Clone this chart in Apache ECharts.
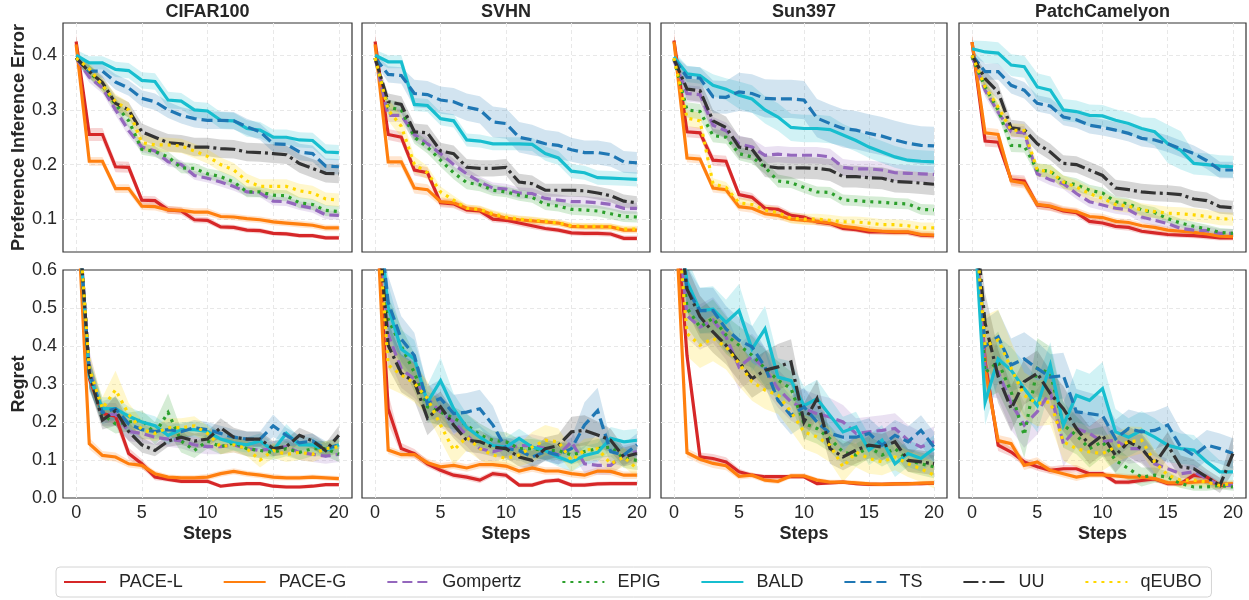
<!DOCTYPE html>
<html><head><meta charset="utf-8">
<script src="https://cdn.jsdelivr.net/npm/echarts@6/dist/echarts.min.js"></script>
<style>html,body{margin:0;padding:0;background:#fff}#c{width:1249px;height:600px}</style>
</head><body><div id="c"></div>
<script>
const steps = [0,1,2,3,4,5,6,7,8,9,10,11,12,13,14,15,16,17,18,19,20];
const methods = ['PACE-L','PACE-G','Gompertz','EPIG','BALD','TS','UU','qEUBO'];
const datasets = ['CIFAR100','SVHN','Sun397','PatchCamelyon'];
const xTicks = [0,5,10,15,20];
const pieTicks = [0.1,0.2,0.3,0.4];
const regretTicks = [0,0.1,0.2,0.3,0.4,0.5,0.6];
const regretGridLines = [0.1,0.2,0.3,0.4,0.5];

// Preference Inference Error: means (order = methods)
const pieCIFAR100 = [
 [0.425,0.255,0.255,0.196,0.195,0.135,0.134,0.117,0.115,0.099,0.098,0.086,0.085,0.08,0.079,0.074,0.073,0.07,0.07,0.066,0.066],
 [0.42,0.206,0.206,0.156,0.156,0.124,0.123,0.117,0.116,0.113,0.113,0.105,0.104,0.101,0.099,0.095,0.093,0.091,0.089,0.084,0.084],
 [0.395,0.36,0.34,0.3,0.262,0.232,0.225,0.205,0.2,0.18,0.175,0.168,0.16,0.15,0.148,0.133,0.132,0.125,0.12,0.108,0.107],
 [0.395,0.37,0.345,0.31,0.28,0.228,0.224,0.214,0.194,0.193,0.183,0.178,0.168,0.15,0.15,0.144,0.143,0.13,0.127,0.116,0.114],
 [0.4,0.386,0.386,0.374,0.372,0.354,0.352,0.318,0.316,0.3,0.298,0.281,0.28,0.266,0.263,0.25,0.25,0.245,0.244,0.223,0.222],
 [0.395,0.371,0.371,0.351,0.34,0.321,0.315,0.3,0.29,0.284,0.281,0.281,0.28,0.269,0.26,0.238,0.237,0.223,0.22,0.197,0.196],
 [0.395,0.37,0.35,0.312,0.3,0.26,0.25,0.24,0.238,0.232,0.232,0.229,0.228,0.223,0.222,0.22,0.218,0.202,0.193,0.184,0.183],
 [0.395,0.375,0.345,0.315,0.3,0.24,0.236,0.236,0.234,0.225,0.215,0.2,0.19,0.17,0.16,0.16,0.16,0.152,0.148,0.137,0.135]
];
const pieSVHN = [
 [0.425,0.255,0.25,0.19,0.185,0.13,0.128,0.117,0.115,0.1,0.098,0.093,0.088,0.083,0.08,0.075,0.074,0.074,0.073,0.065,0.065],
 [0.42,0.205,0.205,0.157,0.154,0.132,0.13,0.12,0.117,0.108,0.102,0.099,0.097,0.095,0.093,0.087,0.086,0.086,0.086,0.08,0.08],
 [0.395,0.29,0.29,0.255,0.238,0.22,0.2,0.183,0.168,0.157,0.155,0.148,0.147,0.138,0.135,0.132,0.132,0.13,0.127,0.12,0.12],
 [0.395,0.305,0.3,0.25,0.232,0.208,0.185,0.167,0.163,0.153,0.15,0.144,0.14,0.127,0.124,0.118,0.117,0.115,0.11,0.105,0.104],
 [0.4,0.388,0.388,0.31,0.308,0.284,0.28,0.245,0.243,0.238,0.238,0.238,0.237,0.22,0.212,0.188,0.185,0.176,0.175,0.174,0.173],
 [0.395,0.365,0.363,0.33,0.328,0.318,0.315,0.305,0.3,0.278,0.275,0.25,0.245,0.238,0.235,0.227,0.222,0.222,0.218,0.205,0.203],
 [0.395,0.315,0.31,0.26,0.258,0.225,0.22,0.195,0.193,0.193,0.195,0.168,0.165,0.153,0.153,0.153,0.152,0.148,0.143,0.133,0.13],
 [0.395,0.3,0.27,0.2,0.185,0.15,0.135,0.12,0.118,0.11,0.104,0.1,0.098,0.096,0.093,0.088,0.087,0.087,0.086,0.082,0.082]
];
const pieSun397 = [
 [0.427,0.26,0.258,0.208,0.206,0.145,0.14,0.12,0.118,0.107,0.104,0.095,0.092,0.083,0.081,0.077,0.077,0.076,0.076,0.071,0.07],
 [0.425,0.212,0.21,0.157,0.154,0.123,0.12,0.11,0.107,0.1,0.098,0.096,0.093,0.087,0.084,0.08,0.078,0.077,0.077,0.072,0.071],
 [0.39,0.33,0.328,0.272,0.262,0.238,0.232,0.217,0.219,0.217,0.217,0.217,0.214,0.195,0.192,0.192,0.19,0.185,0.184,0.183,0.182],
 [0.393,0.3,0.297,0.253,0.25,0.22,0.214,0.195,0.17,0.167,0.158,0.15,0.149,0.135,0.134,0.132,0.131,0.129,0.128,0.118,0.117],
 [0.397,0.366,0.363,0.345,0.338,0.327,0.32,0.3,0.287,0.268,0.266,0.266,0.264,0.254,0.244,0.232,0.223,0.214,0.208,0.206,0.205],
 [0.393,0.36,0.358,0.324,0.323,0.333,0.33,0.321,0.32,0.32,0.318,0.285,0.275,0.266,0.263,0.257,0.252,0.245,0.239,0.235,0.234],
 [0.393,0.338,0.335,0.28,0.268,0.232,0.228,0.197,0.194,0.194,0.194,0.193,0.19,0.178,0.178,0.176,0.175,0.169,0.168,0.166,0.164],
 [0.395,0.285,0.28,0.165,0.158,0.13,0.127,0.117,0.112,0.102,0.1,0.1,0.098,0.095,0.095,0.093,0.09,0.09,0.088,0.084,0.084]
];
const piePatchCamelyon = [
 [0.424,0.243,0.241,0.172,0.17,0.126,0.123,0.115,0.112,0.096,0.093,0.087,0.085,0.078,0.075,0.072,0.071,0.07,0.068,0.066,0.066],
 [0.424,0.258,0.255,0.17,0.166,0.127,0.124,0.117,0.114,0.105,0.103,0.096,0.094,0.088,0.085,0.08,0.078,0.076,0.073,0.069,0.068],
 [0.397,0.336,0.296,0.26,0.258,0.183,0.172,0.165,0.147,0.132,0.126,0.12,0.117,0.104,0.098,0.092,0.083,0.08,0.079,0.074,0.074],
 [0.397,0.342,0.3,0.235,0.234,0.19,0.188,0.168,0.163,0.153,0.148,0.132,0.128,0.117,0.112,0.101,0.093,0.087,0.082,0.076,0.074],
 [0.412,0.406,0.404,0.382,0.379,0.342,0.336,0.3,0.297,0.29,0.289,0.281,0.275,0.266,0.26,0.238,0.226,0.202,0.2,0.197,0.196],
 [0.4,0.37,0.37,0.345,0.336,0.312,0.307,0.287,0.282,0.272,0.268,0.263,0.257,0.248,0.245,0.238,0.229,0.22,0.207,0.19,0.19],
 [0.4,0.357,0.333,0.267,0.264,0.238,0.223,0.202,0.2,0.19,0.18,0.157,0.154,0.15,0.148,0.147,0.145,0.137,0.134,0.123,0.121],
 [0.4,0.342,0.305,0.263,0.262,0.19,0.187,0.168,0.159,0.147,0.138,0.127,0.124,0.117,0.114,0.111,0.11,0.108,0.105,0.101,0.1]
];

// Preference Inference Error: band half-widths
const pieErrCIFAR100 = [
 [0.015,0.012,0.012,0.01,0.01,0.008,0.008,0.007,0.007,0.006,0.006,0.005,0.005,0.005,0.005,0.004,0.004,0.004,0.004,0.004,0.004],
 [0.012,0.008,0.008,0.008,0.008,0.007,0.007,0.007,0.007,0.007,0.007,0.006,0.006,0.006,0.006,0.006,0.006,0.006,0.006,0.006,0.006],
 [0.006,0.01,0.01,0.01,0.01,0.009,0.009,0.008,0.008,0.008,0.008,0.008,0.008,0.008,0.008,0.008,0.008,0.008,0.008,0.008,0.008],
 [0.006,0.012,0.012,0.012,0.012,0.01,0.01,0.01,0.01,0.01,0.01,0.01,0.01,0.01,0.01,0.01,0.01,0.01,0.01,0.01,0.01],
 [0.01,0.012,0.012,0.014,0.014,0.015,0.015,0.015,0.015,0.015,0.015,0.015,0.015,0.015,0.015,0.014,0.014,0.014,0.014,0.014,0.014],
 [0.008,0.012,0.012,0.014,0.014,0.015,0.015,0.015,0.015,0.016,0.016,0.016,0.016,0.015,0.015,0.015,0.015,0.015,0.015,0.014,0.014],
 [0.006,0.012,0.012,0.014,0.014,0.015,0.015,0.016,0.016,0.017,0.017,0.017,0.017,0.017,0.017,0.017,0.017,0.017,0.017,0.017,0.017],
 [0.006,0.012,0.012,0.014,0.014,0.014,0.014,0.013,0.013,0.013,0.013,0.013,0.013,0.013,0.013,0.013,0.013,0.013,0.013,0.012,0.012]
];
const pieErrSVHN = [
 [0.015,0.01,0.01,0.01,0.01,0.008,0.008,0.007,0.007,0.006,0.006,0.006,0.006,0.005,0.005,0.005,0.005,0.005,0.005,0.005,0.005],
 [0.012,0.01,0.01,0.01,0.01,0.008,0.008,0.007,0.007,0.007,0.007,0.007,0.007,0.006,0.006,0.006,0.006,0.006,0.006,0.006,0.006],
 [0.006,0.012,0.012,0.012,0.012,0.01,0.01,0.01,0.01,0.01,0.01,0.01,0.01,0.01,0.01,0.01,0.01,0.01,0.01,0.01,0.01],
 [0.006,0.014,0.014,0.012,0.012,0.012,0.012,0.012,0.012,0.01,0.01,0.01,0.01,0.01,0.01,0.01,0.01,0.01,0.01,0.01,0.01],
 [0.01,0.012,0.012,0.012,0.012,0.012,0.012,0.012,0.012,0.012,0.012,0.012,0.012,0.013,0.013,0.013,0.013,0.013,0.013,0.013,0.013],
 [0.008,0.015,0.015,0.025,0.025,0.025,0.025,0.025,0.025,0.028,0.028,0.028,0.028,0.025,0.025,0.022,0.022,0.022,0.022,0.02,0.02],
 [0.006,0.015,0.015,0.015,0.015,0.015,0.015,0.015,0.015,0.015,0.015,0.015,0.015,0.012,0.012,0.012,0.012,0.012,0.012,0.012,0.012],
 [0.006,0.02,0.02,0.015,0.012,0.01,0.008,0.007,0.007,0.007,0.007,0.007,0.007,0.006,0.006,0.006,0.006,0.006,0.006,0.006,0.006]
];
const pieErrSun397 = [
 [0.015,0.01,0.01,0.01,0.01,0.008,0.008,0.007,0.007,0.006,0.006,0.006,0.006,0.005,0.005,0.005,0.005,0.005,0.005,0.005,0.005],
 [0.012,0.008,0.008,0.008,0.008,0.008,0.008,0.008,0.008,0.007,0.007,0.007,0.007,0.007,0.007,0.007,0.007,0.007,0.007,0.007,0.007],
 [0.006,0.015,0.015,0.015,0.015,0.015,0.015,0.015,0.015,0.015,0.015,0.015,0.015,0.015,0.015,0.015,0.015,0.015,0.015,0.015,0.015],
 [0.006,0.014,0.014,0.012,0.012,0.012,0.012,0.012,0.012,0.01,0.01,0.01,0.01,0.01,0.01,0.01,0.01,0.01,0.01,0.01,0.01],
 [0.01,0.015,0.015,0.02,0.02,0.025,0.025,0.025,0.025,0.025,0.025,0.025,0.025,0.02,0.02,0.02,0.02,0.02,0.02,0.02,0.02],
 [0.008,0.02,0.02,0.03,0.03,0.035,0.035,0.035,0.035,0.035,0.035,0.035,0.035,0.035,0.035,0.035,0.035,0.035,0.035,0.035,0.035],
 [0.006,0.02,0.02,0.02,0.02,0.02,0.02,0.02,0.02,0.02,0.02,0.02,0.02,0.02,0.02,0.02,0.02,0.02,0.02,0.02,0.02],
 [0.006,0.015,0.015,0.01,0.01,0.01,0.01,0.01,0.01,0.01,0.01,0.01,0.01,0.01,0.01,0.01,0.01,0.01,0.01,0.01,0.01]
];
const pieErrPatchCamelyon = [
 [0.015,0.01,0.01,0.01,0.01,0.008,0.008,0.007,0.007,0.006,0.006,0.006,0.006,0.005,0.005,0.005,0.005,0.005,0.005,0.005,0.005],
 [0.012,0.01,0.01,0.01,0.01,0.008,0.008,0.007,0.007,0.007,0.007,0.006,0.006,0.006,0.006,0.006,0.006,0.006,0.006,0.006,0.006],
 [0.006,0.012,0.012,0.012,0.012,0.01,0.01,0.01,0.01,0.01,0.01,0.01,0.01,0.01,0.01,0.008,0.008,0.008,0.008,0.008,0.008],
 [0.006,0.012,0.012,0.012,0.012,0.012,0.012,0.012,0.012,0.01,0.01,0.01,0.01,0.01,0.01,0.008,0.008,0.008,0.008,0.008,0.008],
 [0.015,0.02,0.02,0.02,0.02,0.025,0.025,0.02,0.02,0.02,0.02,0.02,0.02,0.02,0.025,0.035,0.035,0.02,0.02,0.02,0.02],
 [0.01,0.015,0.015,0.015,0.015,0.015,0.015,0.015,0.015,0.015,0.015,0.015,0.015,0.015,0.015,0.015,0.015,0.015,0.015,0.015,0.015],
 [0.006,0.015,0.015,0.015,0.015,0.015,0.015,0.015,0.015,0.015,0.015,0.015,0.015,0.015,0.015,0.015,0.015,0.015,0.015,0.013,0.013],
 [0.006,0.012,0.012,0.012,0.012,0.012,0.012,0.012,0.012,0.012,0.012,0.012,0.012,0.012,0.012,0.012,0.012,0.012,0.012,0.012,0.012]
];

// Regret: means
const regretCIFAR100 = [
 [0.83,0.315,0.222,0.215,0.117,0.09,0.055,0.049,0.044,0.044,0.044,0.031,0.035,0.038,0.038,0.031,0.029,0.029,0.031,0.035,0.035],
 [0.83,0.143,0.112,0.108,0.09,0.086,0.064,0.055,0.053,0.053,0.055,0.064,0.07,0.064,0.06,0.055,0.053,0.053,0.055,0.053,0.051],
 [0.83,0.34,0.22,0.22,0.175,0.17,0.16,0.155,0.15,0.14,0.135,0.135,0.14,0.13,0.125,0.13,0.135,0.12,0.115,0.11,0.115],
 [0.83,0.33,0.22,0.195,0.2,0.205,0.17,0.225,0.15,0.125,0.15,0.135,0.145,0.13,0.125,0.12,0.13,0.12,0.13,0.13,0.115],
 [0.83,0.32,0.235,0.235,0.215,0.2,0.19,0.165,0.18,0.18,0.175,0.155,0.145,0.14,0.15,0.125,0.17,0.14,0.14,0.125,0.14],
 [0.83,0.33,0.225,0.235,0.195,0.18,0.175,0.18,0.175,0.185,0.18,0.17,0.16,0.155,0.155,0.19,0.165,0.145,0.15,0.13,0.14],
 [0.83,0.33,0.205,0.23,0.175,0.14,0.125,0.15,0.16,0.15,0.155,0.185,0.16,0.155,0.155,0.13,0.135,0.165,0.15,0.125,0.165],
 [0.83,0.34,0.235,0.285,0.22,0.18,0.17,0.185,0.185,0.19,0.17,0.135,0.14,0.13,0.1,0.125,0.115,0.12,0.115,0.13,0.135]
];
const regretSVHN = [
 [0.83,0.235,0.13,0.117,0.09,0.073,0.06,0.055,0.047,0.064,0.06,0.034,0.034,0.044,0.047,0.034,0.034,0.037,0.038,0.038,0.038],
 [0.83,0.126,0.114,0.114,0.093,0.082,0.086,0.079,0.088,0.088,0.084,0.071,0.079,0.071,0.071,0.064,0.06,0.071,0.07,0.06,0.06],
 [0.83,0.43,0.34,0.313,0.262,0.226,0.2,0.166,0.13,0.122,0.13,0.138,0.138,0.13,0.113,0.148,0.09,0.086,0.086,0.113,0.122],
 [0.83,0.47,0.4,0.33,0.24,0.226,0.21,0.192,0.166,0.152,0.148,0.13,0.13,0.125,0.125,0.113,0.122,0.13,0.134,0.104,0.099],
 [0.83,0.502,0.392,0.366,0.252,0.309,0.235,0.186,0.16,0.138,0.134,0.157,0.134,0.125,0.108,0.095,0.112,0.12,0.157,0.148,0.152],
 [0.83,0.515,0.418,0.375,0.248,0.262,0.222,0.226,0.235,0.192,0.13,0.125,0.108,0.122,0.113,0.13,0.192,0.23,0.122,0.113,0.14],
 [0.83,0.402,0.328,0.306,0.21,0.24,0.192,0.152,0.148,0.134,0.13,0.108,0.099,0.13,0.138,0.174,0.178,0.166,0.152,0.108,0.117],
 [0.83,0.35,0.324,0.302,0.262,0.192,0.126,0.16,0.13,0.113,0.104,0.113,0.134,0.152,0.148,0.099,0.126,0.13,0.09,0.108,0.077]
];
const regretSun397 = [
 [0.83,0.375,0.108,0.104,0.095,0.069,0.06,0.056,0.056,0.056,0.056,0.038,0.04,0.042,0.038,0.036,0.036,0.037,0.038,0.038,0.039],
 [0.83,0.119,0.102,0.091,0.085,0.057,0.06,0.047,0.044,0.058,0.058,0.047,0.042,0.042,0.04,0.037,0.036,0.037,0.037,0.039,0.04],
 [0.83,0.48,0.45,0.468,0.424,0.345,0.372,0.341,0.288,0.253,0.235,0.222,0.213,0.2,0.17,0.174,0.178,0.183,0.152,0.134,0.148],
 [0.83,0.5,0.45,0.473,0.429,0.402,0.376,0.341,0.31,0.288,0.196,0.183,0.156,0.121,0.113,0.134,0.113,0.13,0.099,0.09,0.082],
 [0.83,0.57,0.493,0.497,0.462,0.493,0.392,0.445,0.318,0.309,0.243,0.261,0.217,0.174,0.187,0.126,0.152,0.09,0.117,0.104,0.13],
 [0.83,0.55,0.493,0.493,0.445,0.415,0.398,0.345,0.257,0.217,0.24,0.2,0.17,0.16,0.16,0.17,0.139,0.165,0.148,0.178,0.134],
 [0.83,0.55,0.477,0.437,0.402,0.358,0.314,0.336,0.345,0.358,0.2,0.261,0.13,0.108,0.126,0.139,0.134,0.148,0.099,0.095,0.09],
 [0.83,0.433,0.402,0.42,0.398,0.354,0.306,0.284,0.271,0.227,0.174,0.161,0.139,0.082,0.121,0.104,0.095,0.108,0.09,0.077,0.06]
];
const regretPatchCamelyon = [
 [0.83,0.36,0.139,0.121,0.095,0.082,0.073,0.077,0.077,0.064,0.064,0.042,0.042,0.046,0.05,0.038,0.038,0.06,0.055,0.033,0.035],
 [0.83,0.34,0.151,0.143,0.086,0.095,0.073,0.064,0.055,0.061,0.061,0.058,0.055,0.055,0.051,0.04,0.04,0.042,0.044,0.035,0.038],
 [0.83,0.34,0.332,0.249,0.192,0.227,0.279,0.143,0.183,0.17,0.148,0.152,0.13,0.13,0.09,0.077,0.064,0.069,0.051,0.033,0.033],
 [0.83,0.33,0.358,0.279,0.165,0.341,0.328,0.192,0.165,0.13,0.148,0.099,0.077,0.055,0.06,0.055,0.038,0.029,0.029,0.033,0.029],
 [0.83,0.252,0.366,0.336,0.288,0.243,0.35,0.192,0.27,0.257,0.288,0.174,0.16,0.178,0.16,0.139,0.13,0.126,0.095,0.069,0.069],
 [0.83,0.4,0.424,0.35,0.366,0.341,0.318,0.322,0.227,0.222,0.217,0.156,0.183,0.174,0.178,0.192,0.134,0.112,0.139,0.13,0.117],
 [0.83,0.46,0.32,0.235,0.306,0.328,0.275,0.235,0.183,0.139,0.165,0.112,0.148,0.13,0.09,0.139,0.082,0.077,0.055,0.033,0.117],
 [0.83,0.4,0.416,0.341,0.27,0.249,0.253,0.148,0.13,0.121,0.117,0.134,0.148,0.152,0.095,0.06,0.047,0.047,0.042,0.033,0.038]
];

// Regret: band half-widths
const regretErrCIFAR100 = [
 [0.02,0.03,0.02,0.02,0.015,0.012,0.008,0.006,0.006,0.006,0.006,0.005,0.005,0.005,0.005,0.005,0.005,0.005,0.005,0.005,0.005],
 [0.02,0.015,0.012,0.012,0.01,0.01,0.008,0.007,0.007,0.007,0.008,0.008,0.008,0.008,0.008,0.008,0.007,0.007,0.007,0.007,0.007],
 [0.02,0.05,0.03,0.03,0.025,0.025,0.02,0.02,0.02,0.02,0.02,0.02,0.02,0.02,0.02,0.02,0.02,0.02,0.02,0.02,0.02],
 [0.02,0.04,0.03,0.025,0.025,0.025,0.03,0.05,0.03,0.02,0.02,0.02,0.02,0.02,0.02,0.02,0.02,0.02,0.02,0.02,0.02],
 [0.02,0.04,0.03,0.03,0.025,0.025,0.025,0.025,0.02,0.02,0.02,0.02,0.02,0.02,0.02,0.02,0.025,0.02,0.02,0.02,0.02],
 [0.02,0.04,0.03,0.03,0.025,0.025,0.02,0.02,0.02,0.02,0.02,0.02,0.02,0.02,0.02,0.03,0.02,0.02,0.02,0.02,0.02],
 [0.02,0.04,0.025,0.04,0.025,0.02,0.015,0.015,0.02,0.02,0.02,0.025,0.025,0.02,0.02,0.02,0.02,0.02,0.02,0.02,0.025],
 [0.02,0.04,0.03,0.05,0.03,0.025,0.02,0.025,0.025,0.025,0.02,0.02,0.02,0.02,0.02,0.02,0.02,0.02,0.02,0.02,0.02]
];
const regretErrSVHN = [
 [0.02,0.04,0.015,0.012,0.01,0.008,0.008,0.008,0.008,0.008,0.008,0.006,0.006,0.006,0.006,0.006,0.006,0.006,0.006,0.006,0.006],
 [0.02,0.01,0.01,0.01,0.01,0.01,0.01,0.01,0.01,0.01,0.01,0.01,0.01,0.01,0.01,0.01,0.01,0.01,0.01,0.01,0.01],
 [0.02,0.06,0.05,0.05,0.04,0.04,0.035,0.03,0.03,0.025,0.025,0.025,0.03,0.03,0.025,0.03,0.025,0.025,0.025,0.025,0.025],
 [0.02,0.06,0.05,0.05,0.04,0.035,0.03,0.03,0.03,0.025,0.025,0.025,0.025,0.025,0.025,0.025,0.025,0.025,0.025,0.025,0.025],
 [0.02,0.06,0.05,0.05,0.045,0.06,0.04,0.035,0.03,0.025,0.025,0.025,0.025,0.025,0.025,0.025,0.025,0.025,0.03,0.03,0.03],
 [0.02,0.07,0.06,0.06,0.045,0.05,0.05,0.05,0.05,0.05,0.03,0.025,0.025,0.025,0.025,0.03,0.06,0.06,0.03,0.03,0.03],
 [0.02,0.06,0.05,0.05,0.045,0.04,0.035,0.03,0.03,0.025,0.025,0.025,0.025,0.03,0.03,0.04,0.04,0.035,0.03,0.025,0.025],
 [0.02,0.06,0.05,0.05,0.045,0.04,0.04,0.035,0.03,0.03,0.025,0.03,0.04,0.04,0.035,0.03,0.03,0.03,0.025,0.025,0.025]
];
const regretErrSun397 = [
 [0.02,0.03,0.012,0.012,0.012,0.008,0.006,0.006,0.006,0.006,0.006,0.005,0.005,0.005,0.005,0.005,0.005,0.005,0.005,0.005,0.005],
 [0.02,0.012,0.012,0.012,0.012,0.008,0.008,0.007,0.007,0.007,0.007,0.006,0.006,0.006,0.006,0.006,0.006,0.006,0.006,0.006,0.006],
 [0.02,0.06,0.06,0.06,0.06,0.06,0.06,0.055,0.05,0.05,0.05,0.05,0.05,0.045,0.04,0.04,0.04,0.04,0.04,0.04,0.04],
 [0.02,0.05,0.05,0.05,0.05,0.05,0.05,0.05,0.05,0.045,0.04,0.04,0.035,0.03,0.03,0.03,0.03,0.03,0.03,0.03,0.03],
 [0.02,0.06,0.06,0.06,0.06,0.07,0.06,0.06,0.05,0.05,0.05,0.05,0.045,0.04,0.04,0.04,0.04,0.035,0.035,0.035,0.035],
 [0.02,0.06,0.06,0.06,0.06,0.06,0.055,0.05,0.05,0.05,0.05,0.045,0.04,0.04,0.04,0.04,0.04,0.04,0.04,0.04,0.04],
 [0.02,0.06,0.055,0.055,0.05,0.05,0.05,0.05,0.06,0.06,0.05,0.05,0.04,0.035,0.035,0.035,0.035,0.035,0.03,0.03,0.03],
 [0.02,0.06,0.06,0.06,0.06,0.06,0.05,0.05,0.05,0.05,0.045,0.045,0.045,0.04,0.04,0.04,0.035,0.035,0.035,0.035,0.035]
];
const regretErrPatchCamelyon = [
 [0.02,0.04,0.015,0.012,0.01,0.01,0.01,0.01,0.01,0.008,0.008,0.007,0.007,0.007,0.007,0.007,0.007,0.008,0.008,0.007,0.007],
 [0.02,0.04,0.015,0.015,0.012,0.012,0.01,0.01,0.01,0.008,0.008,0.008,0.008,0.008,0.008,0.007,0.007,0.007,0.007,0.007,0.007],
 [0.02,0.07,0.07,0.07,0.06,0.06,0.06,0.06,0.05,0.05,0.04,0.04,0.04,0.035,0.03,0.025,0.02,0.02,0.015,0.01,0.01],
 [0.02,0.07,0.08,0.07,0.06,0.08,0.07,0.06,0.05,0.05,0.04,0.035,0.03,0.025,0.02,0.015,0.012,0.01,0.01,0.01,0.01],
 [0.02,0.06,0.06,0.06,0.07,0.07,0.06,0.06,0.07,0.07,0.07,0.06,0.05,0.05,0.05,0.045,0.04,0.04,0.035,0.03,0.03],
 [0.02,0.07,0.07,0.07,0.07,0.07,0.06,0.06,0.06,0.055,0.05,0.05,0.05,0.05,0.05,0.05,0.045,0.04,0.04,0.04,0.04],
 [0.02,0.08,0.07,0.06,0.06,0.06,0.06,0.06,0.05,0.05,0.05,0.045,0.04,0.04,0.035,0.035,0.03,0.025,0.02,0.02,0.05],
 [0.02,0.08,0.08,0.07,0.06,0.06,0.06,0.05,0.05,0.05,0.045,0.04,0.04,0.035,0.03,0.025,0.02,0.015,0.015,0.01,0.01]
];

const pieMeans = [pieCIFAR100, pieSVHN, pieSun397, piePatchCamelyon];
const pieErrs = [pieErrCIFAR100, pieErrSVHN, pieErrSun397, pieErrPatchCamelyon];
const regretMeans = [regretCIFAR100, regretSVHN, regretSun397, regretPatchCamelyon];
const regretErrs = [regretErrCIFAR100, regretErrSVHN, regretErrSun397, regretErrPatchCamelyon];

// ---- styles ----
const FONT = "'Liberation Sans', Arial, Helvetica, sans-serif";
const colors = ['#d62728','#ff7f0e','#9467bd','#2ca02c','#17becf','#1f77b4','#333333','#ffd700'];
const dashes = ['solid','solid',[10,5],[3,5],'solid',[11,5],[15,4,3,4],[3,5]];
const bandAlpha = 0.2;
const colLeft = [63, 362, 661, 959];
const colWidth = [289, 288, 286, 287];
const rowTop = [23, 270];
const rowHeight = [229, 228];
const yRange = [[0.04, 0.459], [0, 0.6]];

function rgba(hex, a) {
  const n = parseInt(hex.slice(1), 16);
  return `rgba(${(n>>16)&255},${(n>>8)&255},${n&255},${a})`;
}

function bandSeries(g, mu, e, color) {
  return {
    type: 'custom', name: 'band', xAxisIndex: g, yAxisIndex: g, silent: true, animation: false,
    data: [[steps[0], mu[0]]], encode: {x: 0, y: 1},
    renderItem: (params, api) => {
      const pts = [];
      for (let i = 0; i < steps.length; i++) pts.push(api.coord([steps[i], mu[i] + e[i]]));
      for (let i = steps.length - 1; i >= 0; i--) pts.push(api.coord([steps[i], mu[i] - e[i]]));
      const cs = params.coordSys;
      return {type: 'polygon', shape: {points: pts}, style: {fill: rgba(color, bandAlpha), stroke: null},
        clipPath: {type: 'rect', shape: {x: cs.x, y: cs.y, width: cs.width, height: cs.height}}};
    }
  };
}

const grid = [], xAxis = [], yAxis = [], series = [];
for (let r = 0; r < 2; r++) {
  for (let c = 0; c < 4; c++) {
    const g = r * 4 + c;
    grid.push({left: colLeft[c], top: rowTop[r], width: colWidth[c], height: rowHeight[r],
      show: true, borderColor: '#333', borderWidth: 1.2, backgroundColor: 'transparent'});
    xAxis.push({type: 'value', gridIndex: g, min: -1, max: 21,
      axisLine: {show: false}, axisTick: {show: false, customValues: xTicks},
      axisLabel: {show: r === 1, customValues: xTicks, fontSize: 18, color: '#262626', fontFamily: FONT, margin: 6},
      splitLine: {show: true, lineStyle: {color: '#e8e8e8', width: 1, type: [4, 3]}},
      name: r === 1 ? 'Steps' : '', nameLocation: 'middle', nameGap: 27,
      nameTextStyle: {fontSize: 18, fontWeight: 'bold', color: '#262626', fontFamily: FONT}});
    const labelTicks = r === 0 ? pieTicks : regretTicks;
    const lineTicks = r === 0 ? pieTicks : regretGridLines;
    yAxis.push({type: 'value', gridIndex: g, min: yRange[r][0], max: yRange[r][1],
      axisLine: {show: false}, axisTick: {show: false, customValues: lineTicks},
      axisLabel: {show: c === 0, customValues: labelTicks, formatter: v => v.toFixed(1), fontSize: 18, color: '#262626', fontFamily: FONT, margin: 6},
      splitLine: {show: true, lineStyle: {color: '#e8e8e8', width: 1, type: [4, 3]}},
      name: c === 0 ? (r === 0 ? 'Preference Inference Error' : 'Regret') : '',
      nameLocation: 'middle', nameGap: 35,
      nameTextStyle: {fontSize: 18, fontWeight: 'bold', color: '#262626', fontFamily: FONT}});
    const means = r === 0 ? pieMeans[c] : regretMeans[c];
    const errs = r === 0 ? pieErrs[c] : regretErrs[c];
    methods.forEach((m, k) => {
      series.push(bandSeries(g, means[k], errs[k], colors[k]));
      series.push({type: 'line', name: m, xAxisIndex: g, yAxisIndex: g,
        data: steps.map((s, i) => [s, means[k][i]]), symbol: 'none', showSymbol: false, silent: true, clip: true,
        color: colors[k],
        lineStyle: {color: colors[k], width: 3.2, type: dashes[k], cap: 'butt', join: 'miter'},
        animation: false});
    });
  }
}
const graphic = datasets.map((d, c) => ({type: 'text', x: colLeft[c] + colWidth[c] / 2, y: 3,
  style: {text: d, fontSize: 18, fontWeight: 'bold', fill: '#262626', fontFamily: FONT, textAlign: 'center'}}));

const chart = echarts.init(document.getElementById('c'), null, {renderer: 'canvas'});
chart.setOption({
  animation: false,
  backgroundColor: '#fff',
  textStyle: {fontFamily: FONT},
  grid, xAxis, yAxis, series, graphic,
  legend: {data: methods, left: 56, top: 567, orient: 'horizontal',
    itemWidth: 42, itemHeight: 14, itemGap: 40,
    padding: [6, 10, 6, 7], borderColor: '#d4d4d4', borderWidth: 1, borderRadius: 4,
    selectedMode: false,
    itemStyle: {color: 'rgba(0,0,0,0)', borderWidth: 0, opacity: 0},
    textStyle: {fontSize: 18, color: '#262626', fontFamily: FONT, padding: [0, 0, 0, 8]}}
});
</script></body></html>
